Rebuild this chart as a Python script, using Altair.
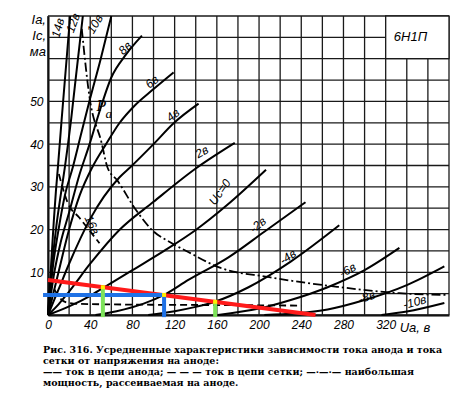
import altair as alt
import pandas as pd

# ---------------- data ----------------
# anode current curves (Ua in V, Ia in mA) for grid voltages
ua_p14 = [0, 3, 5.5, 7.5, 9.4, 13, 17, 21]
ia_p14 = [0, 12, 22, 29, 34.6, 46, 58, 70]
ua_p12 = [0, 4, 8, 12, 16, 22, 27, 33]
ia_p12 = [0, 12, 21, 28, 34.6, 46, 57, 70]
ua_p10 = [0, 5, 10, 16, 23.5, 31, 39.4, 50, 60]
ia_p10 = [0, 12, 20, 28, 34.6, 42, 50.2, 60, 70]
ua_p8 = [0, 6, 12, 20, 30, 39.4, 48, 60, 74, 89]
ia_p8 = [0, 10, 17, 24, 33, 40, 47, 55.6, 61, 65.4]
ua_p6 = [0, 8, 20, 30, 42, 55, 67.6, 82, 98.6, 119]
ia_p6 = [0, 8, 20, 28, 34.6, 40, 44.9, 49, 52.6, 56.8]
ua_p4 = [0, 10, 20, 40, 67.6, 78, 100, 119, 142.7]
ia_p4 = [0, 6, 12, 22.5, 32.2, 34.6, 40, 44.9, 49.5]
ua_p2 = [0, 10, 20, 40, 67.6, 100, 140, 177]
ia_p2 = [0, 2.5, 5.5, 12, 19.9, 26.5, 34.3, 40.3]
ua_0 = [0, 20, 40, 52, 80, 110, 140, 170, 206.6]
ia_0 = [0, 2, 4.5, 6.3, 10.5, 15, 19.9, 25.8, 34]
ua_m2 = [45, 65, 90, 110, 133, 171, 205, 244]
ia_m2 = [0, 0.9, 2.6, 4.7, 8.2, 13.5, 19.5, 26.4]
ua_m4 = [95, 120, 140, 158, 190, 230, 276]
ia_m4 = [0, 0.9, 1.9, 3.1, 6.5, 12.5, 21]
ua_m6 = [161, 200, 230, 265, 300, 333]
ia_m6 = [0, 1.5, 3.5, 6.5, 10.5, 15.7]
ua_m8 = [205, 235, 265, 300, 340, 375.6]
ia_m8 = [0, 0.4, 1.3, 3.5, 7, 11.4]
ua_m10 = [316, 340, 375.6]
ia_m10 = [0, 0.8, 2.8]

# grid current (dashed)
ua_g16 = [10.3, 18.8, 30, 48.8]
ia_g16 = [33, 26.2, 22.7, 16.8]
ua_g0 = [6, 12, 18, 30, 100, 180, 240]
ia_g0 = [6, 3.8, 2.9, 2.6, 2.4, 2.3, 2.2]

# maximum anode dissipation (dash-dot)
ua_pa = [32, 39.4, 50.7, 56.3, 65.7, 83.6, 98.6, 117.4, 133.3, 161.5, 208.5, 274, 333, 378]
ia_pa = [67, 50.9, 40.4, 34.6, 31.5, 24.5, 19.9, 16.8, 14.7, 11.2, 8.9, 6.6, 5.1, 4.7]

# curve labels
lab_text = ["14в", "12в", "10в", "8в", "6в", "4в", "2в", "Uc=0", "-2в", "-4в", "-6в", "-8в", "-10в", "16в"]
lab_ua = [9.5, 23.7, 44.5, 72.9, 98.5, 118.4, 145.8, 162.9, 198.9, 227.3, 284, 302, 347.5, 41.7]
lab_ia = [67.2, 68.4, 68.1, 62.5, 54.6, 46.8, 38.2, 28.8, 21.1, 13.6, 10.5, 4.2, 3.0, 21.1]
lab_ang = [285, 290, 300, 315, 320, 320, 330, 305, 320, 325, 330, 340, 345, 65]

# grid (axis tick values)
x_ticks = list(range(0, 381, 20))
y_ticks = list(range(0, 71, 5))

# hand-drawn overlays (load line etc.)
red_ua = [0, 253.5]
red_ia = [8.2, 0]
blue_h_ua = [-4.7, 110]
blue_h_ia = [4.7, 4.7]
blue_v_ua = [110, 110]
blue_v_ia = [4.7, -0.5]
green_ua = [52, 158.4]
green_top = [6.5, 3.1]
yellow_ua = [52, 110, 158.4]
yellow_ia = [6.5, 4.7, 3.1]

caption = [
    "Рис. 316. Усредненные характеристики зависимости тока анода и тока",
    "сетки от напряжения на аноде:",
    "—— ток в цепи анода; — — — ток в цепи сетки; —·—·— наибольшая",
    "мощность, рассеиваемая на аноде.",
]

# ---------------- build tables ----------------
def long(d):
    rows = []
    for name, (xs, ys) in d.items():
        for i, (x, y) in enumerate(zip(xs, ys)):
            rows.append({"curve": name, "ua": x, "ia": y, "i": i})
    return pd.DataFrame(rows)

solid = long({
    "p14": (ua_p14, ia_p14), "p12": (ua_p12, ia_p12), "p10": (ua_p10, ia_p10),
    "p8": (ua_p8, ia_p8), "p6": (ua_p6, ia_p6), "p4": (ua_p4, ia_p4),
    "p2": (ua_p2, ia_p2), "0": (ua_0, ia_0), "m2": (ua_m2, ia_m2),
    "m4": (ua_m4, ia_m4), "m6": (ua_m6, ia_m6), "m8": (ua_m8, ia_m8),
    "m10": (ua_m10, ia_m10),
})
dashed = long({"g16": (ua_g16, ia_g16), "g0": (ua_g0, ia_g0)})
dashdot = long({"pa": (ua_pa, ia_pa)})
labels = pd.DataFrame({"t": lab_text, "ua": lab_ua, "ia": lab_ia, "a": lab_ang})

W, H = 401, 299
xs = alt.Scale(domain=[0, 380], nice=False, zero=False)
ys = alt.Scale(domain=[0, 70], nice=False, zero=False)

x_axis = alt.Axis(
    values=x_ticks,
    labelExpr="(datum.value % 40 == 0 && datum.value <= 320) ? datum.label : ''",
    grid=False, ticks=False, labelPadding=4, labelOverlap=False, labelFlush=False, title=None,
    domainColor="black", domainWidth=2, labelFont="Liberation Sans",
    labelFontStyle="italic", labelFontSize=12, labelColor="black",
)
y_axis = alt.Axis(
    values=y_ticks,
    labelExpr="(datum.value % 10 == 0 && datum.value >= 10 && datum.value <= 50) ? datum.label : ''",
    grid=False, ticks=False, labelPadding=5, labelOverlap=False, labelFlush=False, title=None,
    domainColor="black", domainWidth=2, labelFont="Liberation Sans",
    labelFontStyle="italic", labelFontSize=12, labelColor="black",
)

# grid drawn as rules
vgrid = alt.Chart(pd.DataFrame({"ua": x_ticks})).mark_rule(color="#1a1a1a", strokeWidth=1.3).encode(
    x=alt.X("ua:Q", scale=xs, axis=x_axis), y=alt.value(0), y2=alt.value(H))
hgrid = alt.Chart(pd.DataFrame({"ia": y_ticks})).mark_rule(color="#1a1a1a", strokeWidth=1.3).encode(
    y=alt.Y("ia:Q", scale=ys, axis=y_axis), x=alt.value(0), x2=alt.value(W))

solid_l = alt.Chart(solid).mark_line(color="black", strokeWidth=2, interpolate="monotone").encode(
    x="ua:Q", y="ia:Q", detail="curve:N", order="i:Q")
dashed_l = alt.Chart(dashed).mark_line(color="black", strokeWidth=1.8, strokeDash=[7, 4], interpolate="monotone").encode(
    x="ua:Q", y="ia:Q", detail="curve:N", order="i:Q")
dashdot_l = alt.Chart(dashdot).mark_line(color="black", strokeWidth=1.8, strokeDash=[9, 3, 2, 3], interpolate="monotone").encode(
    x="ua:Q", y="ia:Q", detail="curve:N", order="i:Q")

lab_l = alt.Chart(labels).mark_text(font="Liberation Sans", fontStyle="italic", fontSize=12, color="black").encode(
    x="ua:Q", y="ia:Q", text="t:N", angle=alt.Angle("a:Q", scale=None))

pa_p = alt.Chart(pd.DataFrame({"ua": [50.5], "ia": [49], "t": ["P"]})).mark_text(
    font="Liberation Serif", fontStyle="italic", fontSize=16, color="black").encode(x="ua:Q", y="ia:Q", text="t:N")
pa_a = alt.Chart(pd.DataFrame({"ua": [57.5], "ia": [47], "t": ["a"]})).mark_text(
    font="Liberation Serif", fontStyle="italic", fontSize=13, color="black").encode(x="ua:Q", y="ia:Q", text="t:N")

box = alt.Chart(pd.DataFrame({"x1": [320], "x2": [380], "y1": [60], "y2": [70]})).mark_rect(
    fill="white", stroke="#1a1a1a", strokeWidth=1.3).encode(x="x1:Q", x2="x2:Q", y="y1:Q", y2="y2:Q")
box_t = alt.Chart(pd.DataFrame({"ua": [343.5], "ia": [65], "t": ["6Н1П"]})).mark_text(
    font="Liberation Sans", fontStyle="italic", fontSize=13, color="black").encode(x="ua:Q", y="ia:Q", text="t:N")

red = alt.Chart(pd.DataFrame({"ua": red_ua, "ia": red_ia})).mark_line(color="#ff1a1a", strokeWidth=4).encode(x="ua:Q", y="ia:Q")
blue_h = alt.Chart(pd.DataFrame({"ua": blue_h_ua, "ia": blue_h_ia})).mark_line(color="#1f72e6", strokeWidth=4, clip=False).encode(x="ua:Q", y="ia:Q")
blue_v = alt.Chart(pd.DataFrame({"ua": blue_v_ua, "ia": blue_v_ia})).mark_line(color="#1f72e6", strokeWidth=4, clip=False).encode(x="ua:Q", y="ia:Q")
green = alt.Chart(pd.DataFrame({"ua": green_ua, "top": green_top, "bot": [-0.5, -0.5]})).mark_rule(
    color="#7de35a", strokeWidth=4).encode(x="ua:Q", y="top:Q", y2="bot:Q")
yellow = alt.Chart(pd.DataFrame({"ua": yellow_ua, "ia": yellow_ia})).mark_square(
    color="#ffee00", size=16, opacity=1).encode(x="ua:Q", y="ia:Q")

# axis titles and caption as text (pixel positions)
ytitle = alt.Chart(pd.DataFrame({"t": ["Iа,\nIс,\nма"]})).mark_text(
    font="Liberation Sans", fontStyle="italic", fontSize=13, color="black", lineBreak="\n",
    lineHeight=16, align="right", baseline="top").encode(
    x=alt.value(-2), y=alt.value(-2), text="t:N")
xtitle = alt.Chart(pd.DataFrame({"t": ["Uа, в"]})).mark_text(
    font="Liberation Sans", fontStyle="italic", fontSize=13, color="black").encode(
    x=alt.value(367), y=alt.value(312), text="t:N")
cap = alt.Chart(pd.DataFrame({"t": ["\n".join(caption)]})).mark_text(
    font="DejaVu Serif", fontWeight="bold", fontSize=9.5, color="black", align="left",
    baseline="middle", lineBreak="\n", lineHeight=11).encode(
    x=alt.value(-5), y=alt.value(334), text="t:N")

chart = alt.layer(
    vgrid, hgrid, box, solid_l, dashed_l, dashdot_l, box_t, lab_l, pa_p, pa_a,
    red, blue_h, blue_v, green, yellow, ytitle, xtitle, cap,
).properties(
    width=W, height=H,
    autosize=alt.AutoSizeParams(type="none"),
    padding={"left": 48, "top": 16, "right": 24, "bottom": 79},
    background="white",
).configure_view(stroke=None)

chart.save("out.html", embed_options={"renderer": "svg", "actions": False})
